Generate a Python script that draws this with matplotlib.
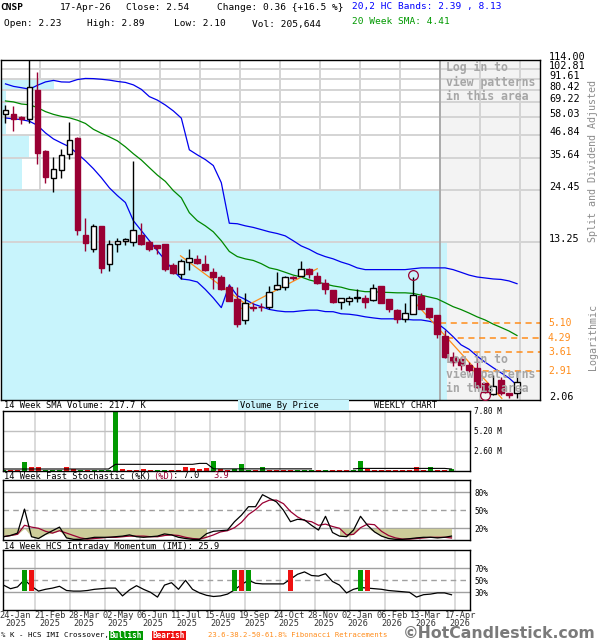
import numpy as np
import matplotlib
matplotlib.use("Agg")
import matplotlib.pyplot as plt
from matplotlib.patches import Rectangle
from matplotlib.ticker import NullLocator, NullFormatter
from matplotlib.transforms import blended_transform_factory as blend

plt.rcParams["font.family"] = ["DejaVu Sans Mono"]

# weekly candles, 24-Jan-2025 .. 17-Apr-2026
opens = [60.3, 60.5, 58.3, 56.6, 79.9, 39.0, 28.3, 31.1, 37.5, 45.6,
         14.5, 12.3, 16.0, 10.3, 13.0, 13.5, 13.3, 14.4, 13.3, 12.8,
         12.95, 10.1, 9.1, 10.55, 10.85, 10.3, 9.3, 8.82, 7.81, 6.81,
         5.32, 6.2, 6.2, 6.15, 7.67, 7.81, 8.82, 8.92, 9.7, 8.9,
         8.23, 7.52, 6.55, 6.62, 6.85, 6.9, 6.68, 7.88, 6.8, 5.98,
         5.33, 5.71, 7.0, 6.1, 5.6, 4.4, 3.43, 3.36, 3.13, 3.0,
         2.52, 2.2, 2.61, 2.24, 2.23]
highs = [66.7, 66.4, 58.7, 125.0, 98.8, 39.2, 36.4, 40.1, 54.9, 45.8,
         17.6, 16.5, 16.1, 13.6, 13.9, 14.0, 34.7, 16.6, 13.6, 12.9,
         13.0, 10.4, 10.85, 12.3, 11.4, 11.4, 9.8, 9.0, 8.1, 7.81,
         7.31, 6.5, 6.45, 7.88, 9.32, 8.9, 8.9, 10.6, 9.8, 9.3,
         8.64, 7.55, 6.87, 7.0, 7.67, 7.1, 8.1, 7.9, 6.82, 6.0,
         6.45, 8.76, 7.27, 6.12, 5.62, 4.69, 3.64, 3.43, 3.23, 3.39,
         2.53, 2.76, 2.71, 2.25, 2.89]
lows = [54.2, 49.3, 53.3, 54.4, 33.3, 26.6, 23.9, 28.2, 35.6, 14.4,
        12.0, 11.8, 9.2, 9.4, 11.8, 12.8, 12.7, 12.8, 12.0, 11.5,
        9.5, 9.1, 8.6, 9.6, 10.3, 9.5, 7.67, 7.52, 6.6, 4.88,
        5.08, 5.88, 5.88, 6.0, 7.52, 7.57, 8.46, 8.9, 8.7, 8.1,
        7.2, 6.45, 6.0, 6.3, 6.55, 6.1, 6.62, 6.45, 5.8, 5.1,
        5.2, 5.69, 6.0, 5.4, 4.3, 3.37, 3.08, 2.93, 2.88, 2.36,
        2.24, 2.19, 2.18, 2.10, 2.10]
closes = [63.2, 56.6, 57.0, 83.2, 38.2, 28.8, 31.5, 37.2, 44.2, 15.4,
          13.1, 16.1, 9.77, 13.0, 13.5, 13.7, 15.4, 13.0, 12.3, 12.4,
          9.62, 9.2, 10.6, 11.0, 10.4, 9.6, 8.79, 7.67, 6.63, 5.08,
          6.5, 6.1, 6.15, 7.37, 7.97, 8.82, 8.7, 9.7, 9.1, 8.2,
          7.6, 6.55, 6.87, 6.9, 6.95, 6.55, 7.75, 6.48, 6.0, 5.33,
          5.78, 7.08, 6.02, 5.5, 4.48, 3.43, 3.21, 3.11, 2.93, 2.39,
          2.27, 2.43, 2.24, 2.18, 2.54]

# 20,2 bands and 20 week SMA
band_upper = [86.0, 83.5, 82.2, 80.8, 84.6, 88.0, 89.6, 88.0, 87.8, 90.5,
              91.7, 91.5, 90.8, 89.9, 88.5, 87.5, 85.0, 80.6, 74.0, 71.0,
              67.0, 62.5, 57.4, 39.5, 37.2, 35.2, 32.8, 26.8, 16.6, 16.5,
              16.1, 15.8, 15.4, 15.0, 14.7, 14.3, 13.5, 12.7, 12.2, 11.6,
              11.2, 10.9, 10.5, 10.2, 9.8, 9.6, 9.6, 9.6, 9.6, 9.6,
              9.6, 9.7, 9.8, 9.8, 9.8, 9.8, 9.6, 9.3, 9.0, 8.8,
              8.7, 8.6, 8.55, 8.4, 8.13]
band_mid = [70.3, 69.5, 67.8, 67.2, 65.0, 62.0, 60.0, 58.6, 57.6, 56.0,
            53.9, 50.3, 48.0, 46.0, 43.9, 40.9, 37.7, 35.0, 32.0, 29.3,
            27.2, 24.4, 22.4, 18.8, 17.1, 16.1, 15.0, 13.5, 11.9, 11.2,
            10.9, 10.7, 10.3, 9.8, 9.6, 9.3, 9.0, 8.8, 8.5, 8.3,
            8.1, 7.92, 7.8, 7.6, 7.5, 7.4, 7.4, 7.35, 7.33, 7.3,
            7.3, 7.25, 7.1, 6.95, 6.8, 6.5, 6.2, 5.99, 5.75, 5.5,
            5.3, 5.05, 4.85, 4.65, 4.41]
band_lower = [57.5, 56.9, 56.4, 55.3, 52.7, 48.2, 44.9, 42.8, 40.9, 37.7,
              34.7, 31.6, 28.4, 25.2, 23.0, 21.2, 17.1, 15.2, 13.5, 12.0,
              10.7, 9.5, 8.6, 8.5, 8.3, 7.6, 6.87, 6.13, 8.0, 7.06,
              6.75, 6.4, 6.2, 6.0, 5.9, 5.84, 5.84, 5.9, 5.95, 5.95,
              5.85, 5.84, 5.7, 5.67, 5.6, 5.5, 5.43, 5.37, 5.37, 5.37,
              5.34, 5.3, 5.3, 5.22, 5.1, 4.75, 4.35, 3.95, 3.75, 3.46,
              3.22, 3.02, 2.84, 2.67, 2.45]

# volume in millions, 14 week SMA of volume
volume_m = [0.15, 0.12, 0.10, 1.13, 0.45, 0.45, 0.12, 0.12, 0.12, 0.45,
            0.20, 0.15, 0.15, 0.15, 0.12, 0.10, 8.50, 0.20, 0.15, 0.15,
            0.20, 0.15, 0.12, 0.12, 0.12, 0.15, 0.45, 0.35, 0.20, 0.35,
            1.26, 0.20, 0.15, 0.20, 0.87, 0.15, 0.12, 0.45, 0.15, 0.12,
            0.15, 0.15, 0.12, 0.12, 0.10, 0.03, 0.03, 0.03, 0.03, 0.03,
            0.05, 1.26, 0.20, 0.15, 0.15, 0.15, 0.15, 0.15, 0.15, 0.45,
            0.15, 0.45, 0.15, 0.15, 0.21]
volume_sma_m = [0.22] * 16 + [0.83] * 12 + [0.95, 0.95] + [0.24] * 15 \
    + [np.nan] * 5 + [0.24] + [0.30] * 13 + [0.22]

stoch_k = [6, 8, 12, 52, 6, 3, 10, 16, 22, 4,
           1.6, 1.6, 3, 5, 5, 5, 6, 7, 9, 6,
           5, 6, 7, 10.6, 9, 5, 3, 1.6, 1.6, 11,
           15, 16, 17, 31, 42, 56, 56, 76, 70, 64,
           50, 31, 35, 34, 25, 17, 40, 13, 7, 6,
           17, 40, 25, 14, 7, 3, 1.6, 1.6, 2.7, 4,
           5, 5, 4, 5, 7.0]
stoch_d = [6, 8, 10, 25, 22, 20, 15, 12, 16, 12,
           8, 4, 2, 3, 4, 5, 5, 6, 7, 7,
           7, 6, 6, 8, 9, 8, 5, 3, 2, 5,
           9, 14, 16, 21, 30, 43, 51, 62, 67, 67,
           61, 48, 39, 33, 31, 25, 27, 23, 20, 9,
           10, 21, 27, 26, 15, 8, 4, 2, 2, 3,
           4, 5, 5, 5, 3.9]
oversold_spans = [(0, 29), (48, 64)]

imi = [42, 36, 39, 51, 40, 32, 35, 37, 40, 33,
       32, 32, 33, 35, 36, 37, 37, 24, 34, 41,
       35, 30, 22, 42, 46, 35, 50, 35, 29, 25,
       23, 24, 27, 34, 43, 50, 45, 44, 44, 44,
       44, 52, 60, 64, 58, 57, 61, 48, 42, 29,
       35, 38, 37, 36, 35, 33, 32, 31, 30, 22,
       26, 27, 29, 29, 25.9]
bull_cross = [3, 33, 35, 51]
bear_cross = [4, 34, 41, 52]

price_ticks = [2.06, 13.25, 24.45, 35.64, 46.84, 58.03, 69.22, 80.42, 91.61, 102.81, 114.00]
# volume by price, share of the largest bin, bins between price_ticks
vbp_share = [1.0, 0.984, 0.049, 0.063, 0.013, 0.013, 0.013, 0.119, 0.0, 0.0]

fib_levels = [5.10, 4.29, 3.61, 2.91]
fib_start = [54.4, 55.3, 57.3, 58.4]
zigzag = [[(21.9, 11.3), (30.8, 6.06)],
          [(28.9, 5.89), (39.0, 9.7)],
          [(50.8, 6.81), (62.1, 2.10)]]
pattern_marks = [(51, "high"), (60, "low")]

label_weeks = [0, 4, 9, 14, 19, 24, 29, 34, 39, 44, 49, 54, 59, 64]
date_labels = ["24-Jan", "21-Feb", "28-Mar", "02-May", "06-Jun", "11-Jul", "15-Aug",
               "19-Sep", "24-Oct", "28-Nov", "02-Jan", "06-Feb", "13-Mar", "17-Apr"]
year_labels = ["2025"] * 10 + ["2026"] * 4

W, H = 600, 640
RED = "#990033"
CYAN = "#c8f4fc"
GRID = "#d4d4d4"
ORANGE = "#ff8c1a"

fig = plt.figure(figsize=(6, 6.4), dpi=100)


def px_axes(x0, y0, x1, y1):
    return fig.add_axes([x0 / W, 1 - y1 / H, (x1 - x0) / W, (y1 - y0) / H])


def ftext(x, y, s, **kw):
    kw.setdefault("va", "center")
    kw.setdefault("fontsize", 6.8)
    return fig.text(x / W, 1 - y / H, s, **kw)


weeks = np.arange(len(closes))
up = np.array(closes) >= np.array(opens)

# ---------------- price panel ----------------
ax = px_axes(0.5, 60, 540, 400)
ax.set_yscale("log")
ax.set_ylim(price_ticks[0], price_ticks[-1])
ax.set_xlim(-0.625, 66.875)
ax.yaxis.set_minor_locator(NullLocator())
ax.yaxis.set_minor_formatter(NullFormatter())
ax.set_yticks(price_ticks)
ax.set_yticklabels([])
ax.tick_params(axis="y", length=0)
ax.set_xticks([])
for s in ax.spines.values():
    s.set_linewidth(1.0)

# price labels sit a few pixels above their grid lines
for t in price_ticks:
    yy = 400 - 340 * np.log(t / price_ticks[0]) / np.log(price_ticks[-1] / price_ticks[0]) - 3
    ftext(549, yy, f"{t:.2f}", fontsize=7.3)

# login area
ax.axvspan(54.375, 66.875, color="#f3f3f3", zorder=0.1, lw=0)
for w in label_weeks[1:]:
    ax.axvline(w + 0.375, color=GRID, lw=1.4, zorder=0.3)

# volume by price
tr = blend(ax.transAxes, ax.transData)
for lo, hi, share in zip(price_ticks[:-1], price_ticks[1:], vbp_share):
    if share > 0:
        ax.add_patch(Rectangle((0, lo), share * 447 / 540, hi - lo, transform=tr,
                               facecolor=CYAN, lw=0, zorder=0.6))

for t in price_ticks[1:-1]:
    ax.axhline(t, color=GRID, lw=1.4, zorder=0.8)
ax.axvline(54.375, color="#a8a8a8", lw=1.3, zorder=0.9)

for y0, lines in [(67, ["Log in to", "view patterns", "in this area"]),
                  (359, ["Log in to", "view patterns", "in this area"])]:
    for k, line in enumerate(lines):
        ftext(446, y0 + 15 * k, line, color="#a6a6a6", fontsize=8.3,
              fontweight="bold", zorder=1)

ax.plot(weeks, band_upper, color="#0000ee", lw=0.9, zorder=2)
ax.plot(weeks, band_lower, color="#0000ee", lw=0.9, zorder=2)
ax.plot(weeks, band_mid, color="#008800", lw=0.9, zorder=2)

for seg in zigzag:
    (xa, ya), (xb, yb) = seg
    ax.plot([xa, xb], [ya, yb], color=ORANGE, lw=0.9, zorder=2.5)

for lvl, start in zip(fib_levels, fib_start):
    ax.plot([start, 66.875], [lvl, lvl], color=ORANGE, lw=1.1, ls=(0, (4, 3)), zorder=2.5)
    ax.text(1 + 8 / 540, lvl, f"{lvl:.2f}", transform=tr, color=ORANGE,
            fontsize=7.0, va="center", ha="left")

for i in weeks:
    col = "black" if up[i] else RED
    lo, hi = min(opens[i], closes[i]), max(opens[i], closes[i])
    ax.vlines(i, lows[i], highs[i], color=col, lw=1.0, zorder=3)
    ax.bar(i, hi - lo, bottom=lo, width=0.72, facecolor="white" if up[i] else RED,
           edgecolor=col, lw=1.0, zorder=4)

for i, side in pattern_marks:
    yv = highs[i] * 1.025 if side == "high" else lows[i] * 0.975
    ax.plot(i, yv, marker="o", ms=7, mfc="none", mec=RED, mew=0.9,
            zorder=5, clip_on=False)

ftext(593, 161, "Split and Dividend Adjusted", rotation=90, ha="center",
      color="#8c8c8c", fontsize=7.2)
ftext(593, 337, "Logarithmic", rotation=90, ha="center", color="#8c8c8c", fontsize=7.2)

# ---------------- header ----------------
ftext(0, 8, "CNSP", fontweight="bold")
ftext(60, 8, "17-Apr-26")
ftext(126, 8, f"Close: {closes[-1]:.2f}")
chg = closes[-1] - closes[-2]
ftext(217, 8, f"Change: {chg:.2f} {{+{100 * chg / closes[-2]:.1f} %}}")
ftext(352, 6, "20,2 HC Bands: 2.39 , 8.13", color="#0000ff")
ftext(4, 24, f"Open: {opens[-1]:.2f}")
ftext(87, 24, f"High: {highs[-1]:.2f}")
ftext(174, 24, f"Low: {lows[-1]:.2f}")
ftext(252, 24, "Vol: 205,644")
ftext(352, 22, f"20 Week SMA: {band_mid[-1]:.2f}", color="#009900")


# ---------------- indicator panels ----------------
def ind_axes(y0, y1, ymax):
    a = px_axes(3, y0, 470, y1)
    a.set_xlim((3 - 3.5) / 7, (470 - 3.5) / 7)
    a.set_ylim(0, ymax)
    a.set_xticks([])
    a.yaxis.tick_right()
    a.tick_params(axis="y", length=0, pad=3, labelsize=5.6)
    for w in label_weeks[1:]:
        a.axvline(w + 0.5, color=GRID, lw=1.2, zorder=0.2)
    for s in a.spines.values():
        s.set_linewidth(1.0)
    return a


# volume
av = ind_axes(410.7, 470.7, 7.8)
av.set_yticks([2.6, 5.2, 7.8])
av.set_yticklabels(["2.60 M", "5.20 M", "7.80 M"])
for t in [2.6, 5.2]:
    av.axhline(t, color="#c0c0c0", lw=1.0, zorder=0.3)
av.bar(weeks, volume_m, width=0.7, color=np.where(up, "#009900", "#ee1111"), zorder=2)
av.plot(weeks, volume_sma_m, color="black", lw=0.8, zorder=3)

ftext(4, 405.5, "14 Week SMA Volume: 217.7 K", fontsize=6.3)
fig.patches.append(Rectangle((237.7 / W, 1 - 410 / H), 111.3 / W, 10 / H,
                             transform=fig.transFigure, facecolor=CYAN, lw=0))
ftext(240, 405.5, "Volume By Price", fontsize=6.3)
ftext(374, 405.5, "WEEKLY CHART", fontsize=6.3)

# stochastic
ast = ind_axes(480.3, 540.3, 100)
ast.set_yticks([20, 50, 80])
ast.set_yticklabels(["20%", "50%", "80%"])
ast.axhline(80, color="#a0a0a0", lw=1.0, zorder=0.3)
ast.axhline(20, color="#a0a0a0", lw=1.0, zorder=0.3)
ast.axhline(50, color="#a0a0a0", lw=1.0, ls=(0, (4, 3)), zorder=0.3)
k = np.array(stoch_k, float)
d = np.array(stoch_d, float)
for a_, b_ in oversold_spans:
    sl = slice(a_, b_ + 1)
    ast.fill_between(weeks[sl], np.minimum(np.minimum(k[sl], d[sl]), 20), 20,
                     color="#cccc99", lw=0, zorder=0.5)
ast.plot(weeks, d, color=RED, lw=0.9, zorder=2)
ast.plot(weeks, k, color="black", lw=0.9, zorder=3)

ftext(4, 476, "14 Week Fast Stochastic (%K)", fontsize=6.3)
ftext(153, 476, "(%D)", fontsize=6.3, color=RED)
ftext(173, 476, f": {stoch_k[-1]:.1f}", fontsize=6.3)
ftext(213, 476, f"{stoch_d[-1]:.1f}", fontsize=6.3, color=RED)

# IMI
ai = ind_axes(550.3, 610.3, 100)
ai.set_yticks([30, 50, 70])
ai.set_yticklabels(["30%", "50%", "70%"])
ai.axhline(70, color="#a0a0a0", lw=1.0, zorder=0.3)
ai.axhline(30, color="#a0a0a0", lw=1.0, zorder=0.3)
ai.axhline(50, color="#a0a0a0", lw=1.0, ls=(0, (4, 3)), zorder=0.3)
ai.plot(weeks, imi, color="black", lw=0.9, zorder=2)
ai.bar(bull_cross, 34, bottom=33, width=0.72, color="#009900", zorder=3)
ai.bar(bear_cross, 34, bottom=33, width=0.72, color="#ee1111", zorder=3)

ftext(4, 546.5, f"14 Week HCS Intraday Momentum (IMI): {imi[-1]:.1f}", fontsize=6.3)

# date labels under the indicator panels
prev_right = -10
for w, dl, yl in zip(label_weeks, date_labels, year_labels):
    cx = 3.5 + 7 * (w + 0.5)
    half = len(dl) * 5.2 / 2
    cx = max(cx, half, prev_right + half + 3)
    prev_right = cx + half
    ftext(cx, 616, dl, ha="center", fontsize=6.2, color="#333333")
    ftext(cx, 623.5, yl, ha="center", fontsize=6.2, color="#333333")

# legend line
ftext(1, 635, "% K - HCS IMI Crossover,", fontsize=5.3)
fig.patches.append(Rectangle((109 / W, 1 - 639.5 / H), 34 / W, 9 / H,
                             transform=fig.transFigure, facecolor="#009900", lw=0))
ftext(126, 635, "Bullish", ha="center", fontsize=5.5, color="white", fontweight="bold")
fig.patches.append(Rectangle((152 / W, 1 - 639.5 / H), 34 / W, 9 / H,
                             transform=fig.transFigure, facecolor="#ee1111", lw=0))
ftext(169, 635, "Bearish", ha="center", fontsize=5.5, color="white", fontweight="bold")
ftext(208, 635, "23.6-38.2-50-61.8% Fibonacci Retracements", fontsize=5.2, color=ORANGE)
ftext(403, 634, "\u00a9HotCandlestick.com", fontsize=11.3, color="#7a7a7a",
      fontweight="bold", family="DejaVu Sans")

fig.savefig("out.png", dpi=100)
